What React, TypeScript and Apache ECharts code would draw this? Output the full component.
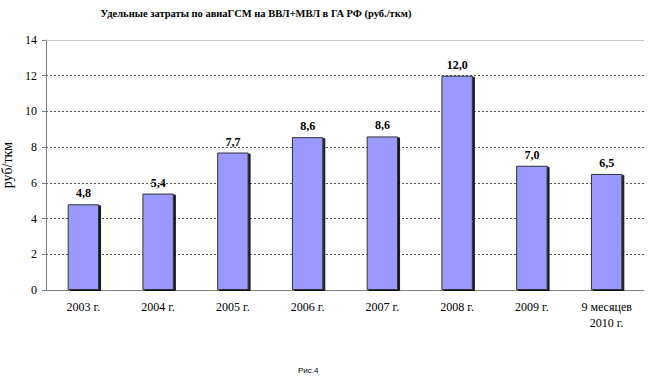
import React, { useEffect, useRef } from "react";
import * as echarts from "echarts";

const categories = ["2003 г.", "2004 г.", "2005 г.", "2006 г.", "2007 г.", "2008 г.", "2009 г.", "9 месяцев\n2010 г."];
const values = [4.8, 5.4, 7.7, 8.56, 8.6, 12.0, 6.96, 6.5];
const yTicks = { min: 0, max: 14, interval: 2 };
const titleText = "Удельные затраты по авиаГСМ на ВВЛ+МВЛ в ГА РФ (руб./ткм)";
const yName = "руб/ткм";
const footnote = "Рис.4";

export default function App() {
  const ref = useRef<HTMLDivElement>(null);
  useEffect(() => {
    if (!ref.current) return;
    const chart = echarts.init(ref.current, null, { renderer: "svg" });
    const serif = "Liberation Serif, Times New Roman, serif";
    chart.setOption({
      animation: false,
      backgroundColor: "#fff",
      textStyle: { fontFamily: serif },
      title: {
        text: titleText,
        left: 251,
        textAlign: "center",
        top: 3,
        textStyle: { fontFamily: serif, fontSize: 10.5, fontWeight: "bold", color: "#000" },
      },
      graphic: [
        {
          type: "text",
          left: 298,
          top: 366,
          style: { text: footnote, fontFamily: "Liberation Sans", fontSize: 8, fill: "#000" },
        },
      ],
      grid: { left: 46, right: 6, top: 40, bottom: 88, containLabel: false, outerBoundsMode: "none" },
      xAxis: {
        type: "category",
        data: categories,
        axisLine: { lineStyle: { color: "#808080", width: 1 } },
        axisTick: { show: false },
        axisLabel: { color: "#000", fontFamily: serif, fontSize: 12, margin: 9, lineHeight: 16, interval: 0 },
      },
      yAxis: {
        type: "value",
        min: yTicks.min,
        max: yTicks.max,
        interval: yTicks.interval,
        name: yName,
        nameLocation: "middle",
        nameGap: 31,
        nameRotate: 90,
        nameTextStyle: { color: "#000", fontFamily: serif, fontSize: 14 },
        axisLine: { show: true, lineStyle: { color: "#808080" } },
        axisTick: { show: true, length: 4, lineStyle: { color: "#808080" } },
        axisLabel: { color: "#000", fontFamily: serif, fontSize: 12, margin: 9 },
        splitLine: { show: true, lineStyle: { color: "#555", type: [2, 2], width: 1 } },
      },
      series: [
        {
          type: "bar",
          data: values,
          barWidth: "42%",
          itemStyle: {
            color: "#9999FF",
            borderColor: "#333",
            borderWidth: 1,
            shadowColor: "rgba(0,0,0,0.9)",
            shadowOffsetX: 2,
            shadowOffsetY: 1,
            shadowBlur: 0,
          },
          label: {
            show: true,
            position: "top",
            distance: 5,
            color: "#000",
            fontFamily: serif,
            fontWeight: "bold",
            fontSize: 12,
            formatter: (p: any) => Number(p.value).toFixed(1).replace(".", ","),
          },
          markLine: {
            silent: true,
            symbol: "none",
            label: { show: false },
            lineStyle: { color: "#c8c8c8", type: "solid", width: 1 },
            data: [{ yAxis: 14 }],
          },
        },
      ],
    });
    return () => chart.dispose();
  }, []);
  return <div ref={ref} style={{ width: 650, height: 378, position: "absolute", left: 0, top: 0 }} />;
}
